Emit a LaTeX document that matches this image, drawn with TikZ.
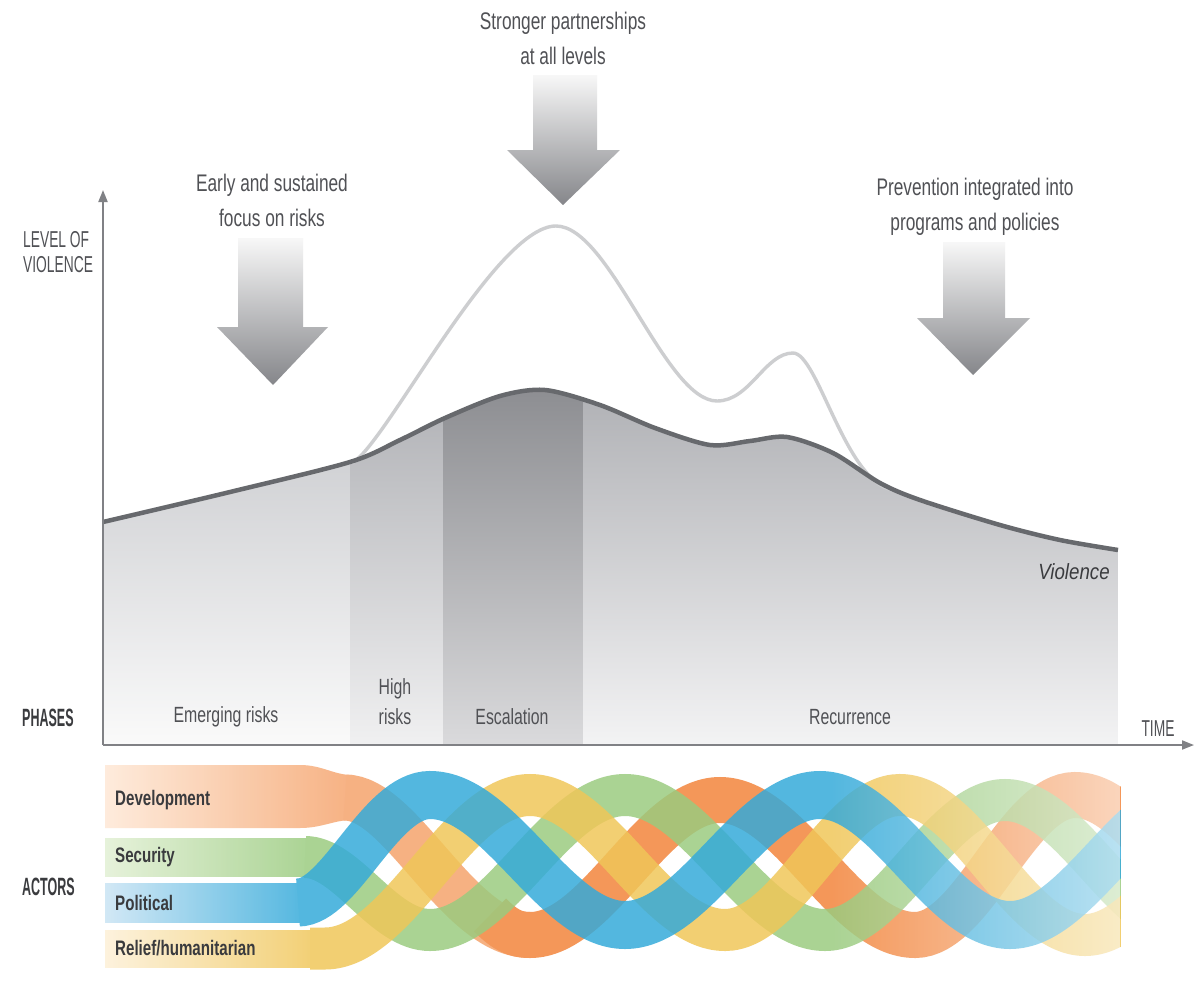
\documentclass[tikz,border=0pt]{standalone}
\usepackage{fontspec}
\setmainfont{Liberation Sans}[FakeStretch=0.72]
\newfontfamily\capsf{Liberation Sans}[FakeStretch=0.5]
\newfontfamily\capsg{Liberation Sans}[FakeStretch=0.6]
\newfontfamily\violf{Liberation Sans}[FakeStretch=0.85]
\usetikzlibrary{arrows.meta,fadings}
\tikzfading[name=fadeR, left color=transparent!100, right color=transparent!0]
\definecolor{txt}{HTML}{505155}
\definecolor{txtd}{HTML}{3A3B3E}
\definecolor{axisc}{HTML}{808185}
\definecolor{viol}{HTML}{67696D}
\definecolor{lite}{HTML}{CDCED0}
\definecolor{arr}{HTML}{85868A}
\definecolor{orng}{HTML}{F2843A}
\definecolor{blu}{HTML}{1CA0D6}
\definecolor{grn}{HTML}{88C268}
\definecolor{yel}{HTML}{EEC046}
\begin{document}
\begin{tikzpicture}[x={(1pt,0)}, y={(0,-1pt)},
  head/.style={text=txt, align=center, inner sep=0, font=\fontsize{24}{35}\selectfont},
  phase/.style={text=txt, align=center, inner sep=0, font=\fontsize{22}{30}\selectfont},
  capl/.style={text=txtd, inner sep=0, anchor=west, font=\capsf\bfseries\fontsize{25}{30}\selectfont},
  axl/.style={text=txt, inner sep=0, align=left, font=\capsg\fontsize{23}{25}\selectfont},
  actl/.style={text=txtd, inner sep=0, anchor=west, font=\bfseries\fontsize{21}{24}\selectfont},
  blockarrow/.style={top color=white!97!black, bottom color=arr, draw=none},
  rib/.style={line width=#1},
  ribgroup/.style={transparency group, opacity=0.84},
  axisline/.style={draw=axisc, line width=1.8, -{Triangle[length=12,width=9]}}
]
\useasboundingbox (0,0) rectangle (1203,988);
\fill[white] (0,0) rectangle (1203,988);

% ---------- phase bands under the violence curve ----------
\begin{scope}
\clip (103,745) -- plot[smooth, tension=0.5] coordinates {(103,522) (230,492) (350,462) (400,440) (445,418) (500,396) (545,390) (600,405) (655,428) (710,445) (750,441) (787,437) (833,453) (880,483) (920,500) (1000,525) (1060,540) (1118,550)} -- (1118,745) -- cycle;
\shade[top color={rgb,255:red,208;green,209;blue,212}, bottom color={rgb,255:red,250;green,250;blue,250}] (103,455) rectangle (350,745);
\shade[top color={rgb,255:red,178;green,179;blue,183}, bottom color={rgb,255:red,240;green,240;blue,241}] (350,400) rectangle (443,745);
\shade[top color={rgb,255:red,140;green,141;blue,145}, bottom color={rgb,255:red,218;green,218;blue,220}] (443,385) rectangle (583,745);
\shade[top color={rgb,255:red,176;green,177;blue,181}, bottom color={rgb,255:red,243;green,243;blue,244}] (583,390) rectangle (1118,745);
\end{scope}

% ---------- curves ----------
\draw[lite, line width=3.4] (352,463) .. controls (385,446) and (495,226) .. (556,226) .. controls (610,226) and (665,401) .. (717,401) .. controls (750,401) and (765,353) .. (793,353) .. controls (818,353) and (845,482) .. (893,490);
\draw[viol, line width=4.5] plot[smooth, tension=0.5] coordinates {(103,522) (230,492) (350,462) (400,440) (445,418) (500,396) (545,390) (600,405) (655,428) (710,445) (750,441) (787,437) (833,453) (880,483) (920,500) (1000,525) (1060,540) (1118,550)};

% ---------- axes ----------
\coordinate (o) at (103,745);
\coordinate (ytop) at (103,190);
\coordinate (xend) at (1194,745);
\draw[axisline] (o) -- (ytop);
\draw[axisline] (o) -- (xend);

% ---------- block arrows ----------
\shade[blockarrow] (238,238) -- (303,238) -- (303,327) -- (328,327) -- (273,385) -- (217,327) -- (238,327) -- cycle;
\shade[blockarrow] (533,75) -- (597,75) -- (597,150) -- (620,150) -- (563,205) -- (507,150) -- (533,150) -- cycle;
\shade[blockarrow] (943,242) -- (1005,242) -- (1005,318) -- (1030,318) -- (973,375) -- (917,318) -- (943,318) -- cycle;

% ---------- texts ----------
\node[head] (h1) at (272,200) {Early and sustained\\focus on risks};
\node[head] (h2) at (563,38) {Stronger partnerships\\at all levels};
\node[head] (h3) at (975,207) {Prevention integrated into\\programs and policies};
\node[axl, anchor=west] (lv) at (23,252) {LEVEL OF\\VIOLENCE};
\node[capl] (ph) at (22,718) {PHASES};
\node[capl] (ac) at (22,887) {ACTORS};
\node[axl, anchor=center] (tm) at (1158,729) {TIME};
\node[phase] (p1) at (226,717) {Emerging risks};
\node[phase] (p2) at (395,702) {High\\risks};
\node[phase] (p3) at (512,717) {Escalation};
\node[phase] (p4) at (850,717) {Recurrence};
\node[text=txtd, inner sep=0, font=\violf\itshape\fontsize{22}{24}\selectfont] (vl) at (1074,572) {Violence};

% ---------- actors: bands and woven ribbons ----------
\begin{scope}
\clip (100,755) rectangle (1120,985);
% Development
\begin{scope}[ribgroup]
\shade[left color={rgb,255:red,254;green,232;blue,214}, right color=orng!75!white] (105,765) -- (300,765) .. controls (322,765) and (334,775) .. (352,775) -- (352,820) .. controls (334,820) and (322,828) .. (300,828) -- (105,828) -- cycle;
\draw[rib=46, orng!75!white] (345,797.5) .. controls (402,797.5) and (458,935) .. (530,935);
\draw[rib=46, orng] (490,915) .. controls (505,930) and (515,935) .. (530,935) .. controls (598,935) and (652,800) .. (720,800) .. controls (790,800) and (845,935) .. (915,935) .. controls (973,935) and (1017,795) .. (1075,795) .. controls (1142,795) and (1193,935) .. (1260,935);
\end{scope}
% Security
\begin{scope}[ribgroup]
\shade[left color={rgb,255:red,226;green,240;blue,212}, right color=grn!85!white] (105,838) rectangle (312,876);
\draw[rib=42, grn!85!white] (305,857) .. controls (347,857) and (383,930) .. (430,930) .. controls (500,930) and (555,795) .. (625,795) .. controls (697,795) and (753,930) .. (825,930) .. controls (890,930) and (940,800) .. (1005,800) .. controls (1072,800) and (1123,930) .. (1190,930);
\end{scope}
% Relief
\begin{scope}[ribgroup]
\shade[left color={rgb,255:red,253;green,240;blue,215}, right color=yel!90!white] (105,930) rectangle (318,967);
\draw[rib=42, yel!90!white] (310,948.5) -- (325,948.5) .. controls (399,948.5) and (456,795) .. (530,795) .. controls (600,795) and (655,930) .. (725,930) .. controls (788,930) and (837,795) .. (900,795) .. controls (967,795) and (1018,935) .. (1085,935) .. controls (1152,935) and (1203,795) .. (1270,795);
\end{scope}
% Political
\begin{scope}[ribgroup]
\shade[left color={rgb,255:red,202;green,228;blue,244}, right color=blu!90!white] (105,883) rectangle (305,922);
\draw[rib=48, blu!90!white] (298,902.5) .. controls (340,902.5) and (380,795) .. (430,795) .. controls (500,795) and (555,925) .. (625,925) .. controls (695,925) and (750,795) .. (820,795) .. controls (888,795) and (942,925) .. (1010,925) .. controls (1078,925) and (1132,795) .. (1200,795);
\end{scope}
\fill[white, path fading=fadeR, fill opacity=0.6] (830,755) rectangle (1120,985);
\end{scope}

\node[actl] (a1) at (115,800) {Development};
\node[actl] (a2) at (115,857) {Security};
\node[actl] (a3) at (115,903) {Political};
\node[actl] (a4) at (115,948) {Relief/humanitarian};
\end{tikzpicture}
\end{document}
